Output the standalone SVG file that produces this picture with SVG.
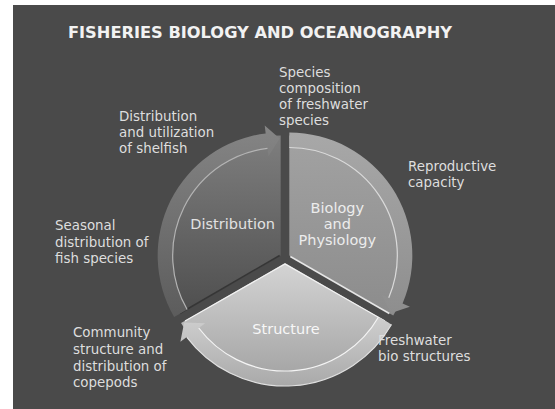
<svg xmlns="http://www.w3.org/2000/svg" width="555" height="409" viewBox="0 0 555 409">
<style>
.lbl{font-family:"DejaVu Sans","Liberation Sans",sans-serif;font-size:13.4px;fill:#dedede}
.seg{font-family:"DejaVu Sans","Liberation Sans",sans-serif;font-size:14.5px;text-anchor:middle}
.hl{fill:none;stroke-width:1.2}
</style>
<defs>
<linearGradient id="gD" x1="0" y1="0" x2="0" y2="1"><stop offset="0" stop-color="#7e7e7e"/><stop offset="1" stop-color="#4e4e4e"/></linearGradient>
<linearGradient id="gDb" x1="0" y1="0" x2="0" y2="1"><stop offset="0" stop-color="#858585"/><stop offset="1" stop-color="#5c5c5c"/></linearGradient>
<linearGradient id="gB" x1="0" y1="0" x2="0" y2="1"><stop offset="0" stop-color="#a2a2a2"/><stop offset="1" stop-color="#8c8c8c"/></linearGradient>
<linearGradient id="gBb" x1="0" y1="0" x2="0" y2="1"><stop offset="0" stop-color="#a8a8a8"/><stop offset="1" stop-color="#8e8e8e"/></linearGradient>
<linearGradient id="gS" x1="0" y1="0" x2="0" y2="1"><stop offset="0" stop-color="#d4d4d4"/><stop offset="1" stop-color="#a2a2a2"/></linearGradient>
<linearGradient id="gSb" x1="0" y1="0" x2="0" y2="1"><stop offset="0" stop-color="#cfcfcf"/><stop offset="1" stop-color="#a9a9a9"/></linearGradient>
</defs>
<rect x="13" y="5" width="542" height="404" fill="#4a4a4a"/>
<text x="260" y="38" text-anchor="middle" textLength="384" lengthAdjust="spacingAndGlyphs" style="font-family:'DejaVu Sans','Liberation Sans',sans-serif;font-size:16px;font-weight:bold;fill:#f2f2f2">FISHERIES BIOLOGY AND OCEANOGRAPHY</text>

<g id="node-distribution" transform="translate(280.67,255.5)">
<path d="M0,0 L-103.92,60 A120,120 0 0 1 0,-120 Z" fill="url(#gD)"/>
<path d="M-1,0 L-101,58" stroke="#363636" stroke-width="1.5" fill="none"/>
<text class="seg" x="-48" y="-27" fill="#e2e2e2">Distribution</text>
</g>
<g id="node-biology" transform="translate(289.33,255.5)">
<path d="M0,0 L0,-120 A120,120 0 0 1 103.92,60 Z" fill="url(#gB)"/>
<path d="M1,1 L100,58" stroke="#e6e6e6" stroke-width="1.5" fill="none"/>
<text class="seg" x="48" y="-43" fill="#ececec">Biology</text>
<text class="seg" x="48" y="-27" fill="#ececec">and</text>
<text class="seg" x="48" y="-11" fill="#ececec">Physiology</text>
</g>
<g id="node-structure" transform="translate(285,263)">
<path d="M0,0 L103.92,60 A120,120 0 0 1 -103.92,60 Z" fill="url(#gS)"/>
<path d="M0,1 L-100,58 M0,1 L100,58" stroke="#f2f2f2" stroke-width="1.2" fill="none"/>
<text class="seg" x="1" y="71" fill="#f7f7f7">Structure</text>
</g>

<g id="connectors">
<g transform="translate(280.67,255.5)">
<path d="M-106.52,61.5 A123,123 0 0 1 -14.99,-122.08 L-15.96,-130.02 L-1.02,-116.99 L-12.19,-99.25 L-13.16,-107.19 A108,108 0 0 0 -93.53,54 Z" fill="url(#gDb)"/>
<path class="hl" d="M-93.53,54 A108,108 0 0 1 -13.16,-107.19" stroke="#b4b4b4"/>
</g>
<g transform="translate(289.33,255.5)">
<path d="M0,-123 A123,123 0 0 1 113.22,48.06 L120.59,51.19 L101.83,57.61 L92.05,39.07 L99.41,42.20 A108,108 0 0 0 0,-108 Z" fill="url(#gBb)"/>
<path class="hl" d="M0,-108 A108,108 0 0 1 99.41,42.20" stroke="#dadada"/>
</g>
<g transform="translate(285,263)">
<path d="M106.52,61.5 A123,123 0 0 1 -98.23,74.02 L-104.62,78.84 L-100.81,59.38 L-79.86,60.18 L-86.25,65 A108,108 0 0 0 93.53,54 Z" fill="url(#gSb)"/>
<path class="hl" d="M93.53,54 A108,108 0 0 1 -86.25,65" stroke="#f4f4f4"/>
<path class="hl" d="M106.52,61.5 A123,123 0 0 1 -98.23,74.02" stroke="#e0e0e0"/>
</g>
</g>

<g id="label-species">
<text class="lbl" x="279" y="77">Species</text>
<text class="lbl" x="279" y="93">composition</text>
<text class="lbl" x="279" y="109">of freshwater</text>
<text class="lbl" x="279" y="125">species</text>
</g>
<g id="label-shelfish">
<text class="lbl" x="119" y="121">Distribution</text>
<text class="lbl" x="119" y="137">and utilization</text>
<text class="lbl" x="119" y="153">of shelfish</text>
</g>
<g id="label-seasonal">
<text class="lbl" x="55" y="230">Seasonal</text>
<text class="lbl" x="55" y="247">distribution of</text>
<text class="lbl" x="55" y="263">fish species</text>
</g>
<g id="label-reproductive">
<text class="lbl" x="408" y="171">Reproductive</text>
<text class="lbl" x="408" y="187">capacity</text>
</g>
<g id="label-community">
<text class="lbl" x="73" y="337">Community</text>
<text class="lbl" x="73" y="354">structure and</text>
<text class="lbl" x="73" y="371">distribution of</text>
<text class="lbl" x="73" y="387">copepods</text>
</g>
<g id="label-freshwater">
<text class="lbl" x="378" y="345">Freshwater</text>
<text class="lbl" x="378" y="361">bio structures</text>
</g>
</svg>
